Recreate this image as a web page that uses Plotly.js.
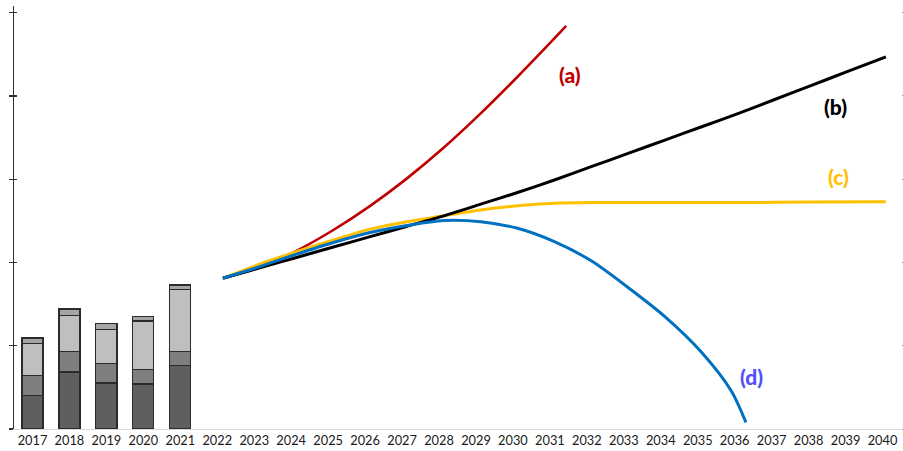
<!DOCTYPE html>
<html>
<head>
<meta charset="utf-8">
<script src="https://cdn.plot.ly/plotly-3.0.1.min.js"></script>
<style>html,body{margin:0;padding:0;background:#fff;}#chart{width:903px;height:451px;}</style>
</head>
<body>
<div id="chart"></div>
<script>
// Categories on the x axis
const years = ['2017','2018','2019','2020','2021','2022','2023','2024','2025','2026','2027','2028',
  '2029','2030','2031','2032','2033','2034','2035','2036','2037','2038','2039','2040'];

// Historical stacked bars
const barYears = ['2017','2018','2019','2020','2021'];
const seg1 = [40.6, 68.5, 55.3, 54.1, 76.2];
const seg2 = [23.2, 24.5, 23.3, 17.3, 16.8];
const seg3 = [38.9, 43.2, 40.8, 58.3, 74.8];
const seg4 = [6.7, 7.9, 7.2, 5.3, 5.2];

// Scenario lines
const aX = [2022, 2023, 2024, 2025, 2026, 2027, 2028, 2029, 2030, 2031, 2031.32];
const aY = [181, 194, 214, 239, 268, 301, 338, 379, 423, 469, 484];

const bX = [2022, 2023, 2024, 2025, 2026, 2027, 2028, 2029, 2030, 2031, 2032, 2033, 2034, 2035, 2036, 2037, 2038, 2039, 2040];
const bY = [181, 193.5, 206, 218.5, 231, 243.5, 256, 270, 284, 299, 315, 331, 347, 363, 379, 396, 413, 430, 447];

const cX = [2022, 2023, 2024, 2025, 2026, 2027, 2028, 2029, 2030, 2031, 2032, 2034, 2036, 2038, 2040];
const cY = [181, 198, 213, 227, 240, 249, 256, 263, 268, 271, 272, 272, 272, 272.5, 273];

const dX = [2022, 2023, 2024, 2025, 2026, 2027, 2028, 2029, 2030, 2031, 2032, 2033, 2034, 2035, 2035.8, 2036.2];
const dY = [181, 195, 210, 224, 236, 244.5, 250.5, 249, 241, 225, 202, 170, 135, 92, 46, 8];

const yTicks = [0, 100, 200, 300, 400, 500];

const barLine = {color: '#2b2b2b', width: 1.2};
const traces = [
  {type:'bar', x: barYears, y: seg1, marker:{color:'#5f5f5f', line: barLine}, width:0.57, hoverinfo:'skip'},
  {type:'bar', x: barYears, y: seg2, marker:{color:'#7f7f7f', line: barLine}, width:0.57, hoverinfo:'skip'},
  {type:'bar', x: barYears, y: seg3, marker:{color:'#bfbfbf', line: barLine}, width:0.57, hoverinfo:'skip'},
  {type:'bar', x: barYears, y: seg4, marker:{color:'#a5a5a5', line: barLine}, width:0.57, hoverinfo:'skip'},
  {type:'scatter', mode:'lines', x: aX, y: aY, xaxis:'x2', line:{color:'#c00000', width:2.6, shape:'spline', smoothing:0.8}},
  {type:'scatter', mode:'lines', x: cX, y: cY, xaxis:'x2', line:{color:'#ffc000', width:3, shape:'spline', smoothing:0.8}},
  {type:'scatter', mode:'lines', x: bX, y: bY, xaxis:'x2', line:{color:'#000000', width:3, shape:'spline', smoothing:0.6}},
  {type:'scatter', mode:'lines', x: dX, y: dY, xaxis:'x2', line:{color:'#0070c0', width:3, shape:'spline', smoothing:0.8}},
  {type:'scatter', mode:'markers', x:[2030], y:[-100], yaxis:'y2', xaxis:'x2', hoverinfo:'skip', marker:{opacity:0}},
  {type:'scatter', mode:'markers', x:[2030], y:[-100], yaxis:'y3', xaxis:'x2', hoverinfo:'skip', marker:{opacity:0}}
];

const labelFont = {family:'Lato, "Open Sans", sans-serif', size:21, weight:900};
const layout = {
  width: 903, height: 451,
  margin: {l:14, r:2, t:6, b:22, pad:0},
  paper_bgcolor:'#ffffff', plot_bgcolor:'#ffffff',
  showlegend:false,
  barmode:'stack',
  bargap:0.43,
  font: {family:'Lato, "Open Sans", sans-serif', size:12.8, color:'#1a1a1a'},
  xaxis: {
    type:'category', categoryorder:'array', categoryarray: years,
    tickvals: years, ticktext: years,
    range:[-0.5, 23.5], showgrid:false, zeroline:false,
    showline:true, linecolor:'#d9d9d9', linewidth:1,
    ticks:'', tickfont:{family:'Lato, "Open Sans", sans-serif', size:12.8, color:'#1a1a1a'}
  },
  xaxis2: {
    overlaying:'x', type:'linear', range:[2016.33, 2040.41],
    visible:false, showgrid:false, zeroline:false
  },
  yaxis: {
    range:[0, 508], tickvals: yTicks, showticklabels:false,
    showgrid:false, zeroline:false,
    showline:true, linecolor:'#333333', linewidth:1.5,
    ticks:'outside', ticklen:4, tickwidth:1.2, tickcolor:'#333333'
  },
  yaxis2: {
    overlaying:'y', side:'left', anchor:'x', range:[0, 508], tickvals: yTicks,
    showticklabels:false, showgrid:false, zeroline:false, showline:false,
    ticks:'inside', ticklen:3, tickwidth:1.2, tickcolor:'#333333'
  },
  yaxis3: {
    overlaying:'y', side:'right', anchor:'x', range:[0, 508], tickvals: yTicks,
    showticklabels:false, showgrid:false, zeroline:false, showline:false,
    ticks:'outside', ticklen:3, tickwidth:1, tickcolor:'#8c8c8c'
  },
  annotations: [
    {text:'(a)', xref:'paper', yref:'paper', x:0.627, y:0.837, xanchor:'center', yanchor:'middle', showarrow:false, font:Object.assign({}, labelFont, {color:'#c00000'})},
    {text:'(b)', xref:'paper', yref:'paper', x:0.9256, y:0.762, xanchor:'center', yanchor:'middle', showarrow:false, font:Object.assign({}, labelFont, {color:'#000000'})},
    {text:'(c)', xref:'paper', yref:'paper', x:0.930, y:0.5965, xanchor:'center', yanchor:'middle', showarrow:false, font:Object.assign({}, labelFont, {color:'#ffc000'})},
    {text:'(d)', xref:'paper', yref:'paper', x:0.831, y:0.1236, xanchor:'center', yanchor:'middle', showarrow:false, font:Object.assign({}, labelFont, {color:'#5050ff'})}
  ]
};

Plotly.newPlot('chart', traces, layout, {displayModeBar:false, staticPlot:true});
</script>
</body>
</html>
